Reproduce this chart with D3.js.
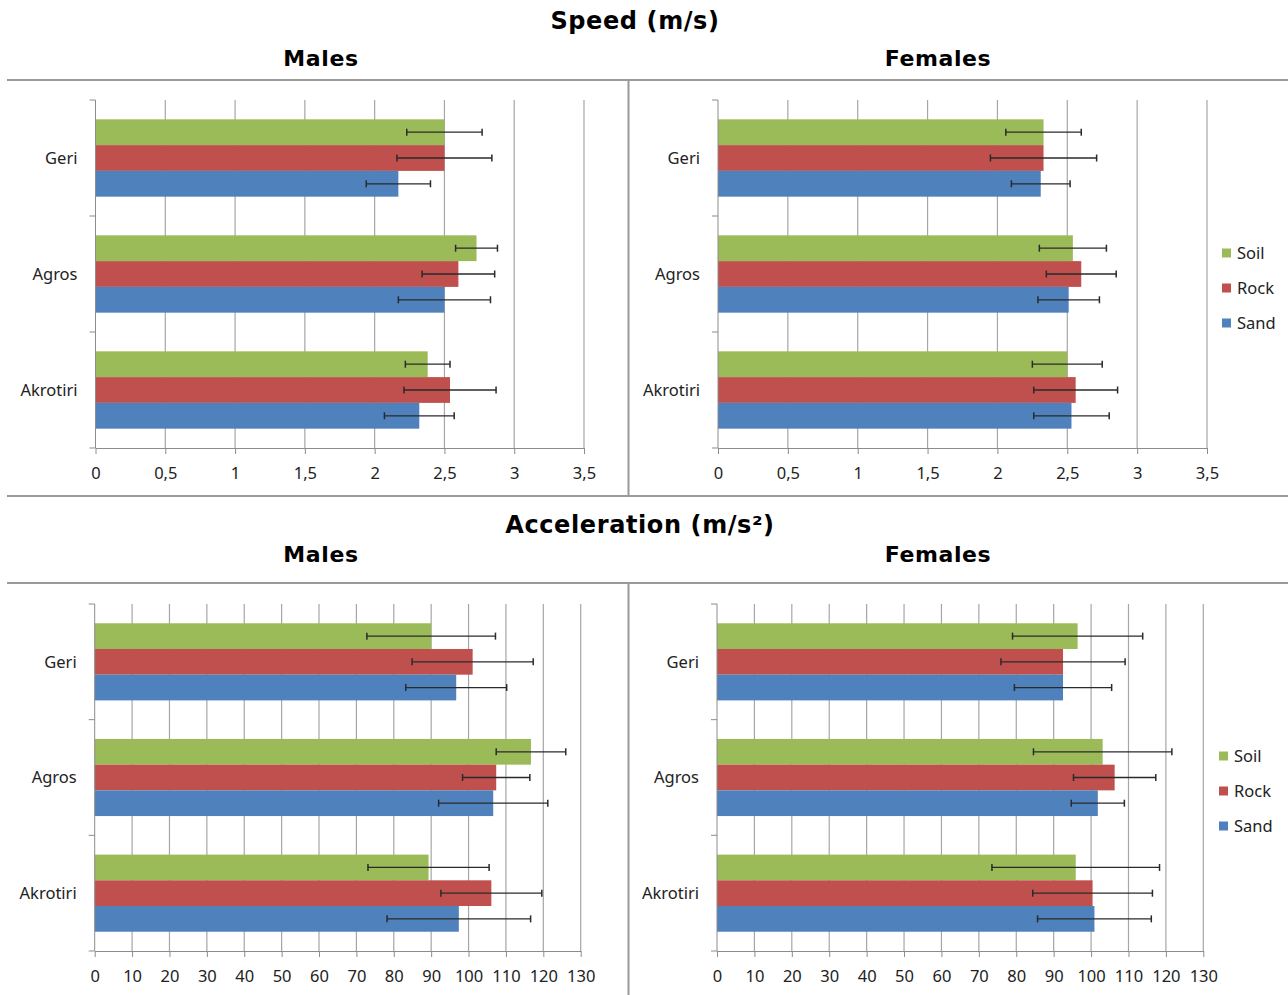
<!DOCTYPE html>
<html>
<head>
<meta charset="utf-8">
<script src="https://cdn.jsdelivr.net/npm/d3@7"></script>
<style>
  body { margin: 0; background: #fff; }
  svg { display: block; }
</style>
</head>
<body>
<svg id="chart" width="1288" height="995"></svg>
<script>
// categories (top to bottom) and series (top to bottom inside a group)
const sites = ["Geri", "Agros", "Akrotiri"];
const substrates = ["Soil", "Rock", "Sand"];
const colors = ["#9BBB59", "#C0504D", "#4F81BD"];

// rows = sites, columns = Soil, Rock, Sand
const speedMales = [[2.50, 2.50, 2.17], [2.73, 2.60, 2.50], [2.38, 2.54, 2.32]];
const speedMalesErr = [[0.27, 0.34, 0.23], [0.15, 0.26, 0.33], [0.16, 0.33, 0.25]];
const speedFemales = [[2.33, 2.33, 2.31], [2.54, 2.60, 2.51], [2.50, 2.56, 2.53]];
const speedFemalesErr = [[0.27, 0.38, 0.21], [0.24, 0.25, 0.22], [0.25, 0.30, 0.27]];

const accelMales = [[90.0, 101.1, 96.7], [116.7, 107.4, 106.6], [89.3, 106.1, 97.4]];
const accelMalesErr = [[17.2, 16.2, 13.5], [9.3, 9.0, 14.6], [16.2, 13.5, 19.2]];
const accelFemales = [[96.4, 92.5, 92.5], [103.1, 106.3, 101.8], [95.9, 100.4, 100.9]];
const accelFemalesErr = [[17.4, 16.6, 13.0], [18.5, 11.0, 7.1], [22.4, 16.0, 15.2]];

const speedTicks = [0, 0.5, 1, 1.5, 2, 2.5, 3, 3.5];
const accelTicks = [0, 10, 20, 30, 40, 50, 60, 70, 80, 90, 100, 110, 120, 130];

const svg = d3.select('#chart');
const fmt = d3.formatLocale({decimal: ",", thousands: ".", grouping: [3], currency: ["", ""]}).format("~g");
const labelFont = "'Noto Sans', 'Open Sans', sans-serif";
const titleFont = "'DejaVu Sans', Verdana, sans-serif";

// section titles and dividers
const titles = [
  {text: "Speed (m/s)", x: 635, y: 29, size: 24},
  {text: "Males", x: 321, y: 66, size: 22},
  {text: "Females", x: 938, y: 66, size: 22},
  {text: "Acceleration (m/s²)", x: 640, y: 533, size: 24},
  {text: "Males", x: 321, y: 562, size: 22},
  {text: "Females", x: 938, y: 562, size: 22}
];
svg.selectAll('text.title')
  .data(titles)
  .enter().append('text')
  .attr('class', 'title')
  .attr('x', d => d.x)
  .attr('y', d => d.y)
  .attr('text-anchor', 'middle')
  .style('font-family', titleFont)
  .style('font-weight', 'bold')
  .style('font-size', d => d.size + 'px')
  .style('letter-spacing', '0.6px')
  .text(d => d.text);

const rules = [
  [7, 80, 1288, 80], [7, 496, 1288, 496], [7, 583, 1288, 583],
  [628.5, 80, 628.5, 496], [628.5, 583, 628.5, 995]
];
svg.selectAll('line.rule')
  .data(rules)
  .enter().append('line')
  .attr('x1', d => d[0]).attr('y1', d => d[1])
  .attr('x2', d => d[2]).attr('y2', d => d[3])
  .attr('stroke', '#9a9a9a')
  .attr('stroke-width', 2);

const panels = [
  {mean: speedMales, err: speedMalesErr, ticks: speedTicks, left: 95.5, right: 584, top: 100, bottom: 448},
  {mean: speedFemales, err: speedFemalesErr, ticks: speedTicks, left: 718, right: 1207, top: 100, bottom: 448, legend: [1222, 253]},
  {mean: accelMales, err: accelMalesErr, ticks: accelTicks, left: 94.7, right: 580.7, top: 604, bottom: 951},
  {mean: accelFemales, err: accelFemalesErr, ticks: accelTicks, left: 717, right: 1203.3, top: 604, bottom: 951, legend: [1219, 756]}
];

panels.forEach(p => {
  const g = svg.append('g');
  const ticks = p.ticks;
  const x = d3.scaleLinear().domain([0, ticks[ticks.length - 1]]).range([p.left, p.right]);
  const y = d3.scaleBand().domain(sites).range([p.top, p.bottom]);
  const bw = y.bandwidth();
  const y1 = d3.scaleBand().domain(substrates).range([bw / 6, bw * 5 / 6]);

  // gridlines
  g.selectAll('line.grid')
    .data(ticks.slice(1))
    .enter().append('line')
    .attr('x1', d => x(d)).attr('x2', d => x(d))
    .attr('y1', p.top).attr('y2', p.bottom)
    .attr('stroke', '#a6a6a6')
    .attr('stroke-width', 1.2);

  // bars
  const rows = [];
  sites.forEach((s, i) => substrates.forEach((t, j) => {
    rows.push({site: s, sub: t, j: j, v: p.mean[i][j], e: p.err[i][j]});
  }));

  g.selectAll('rect.bar')
    .data(rows)
    .enter().append('rect')
    .attr('x', x(0))
    .attr('y', d => y(d.site) + y1(d.sub))
    .attr('width', d => x(d.v) - x(0))
    .attr('height', y1.bandwidth())
    .attr('fill', d => colors[d.j]);

  // error bars
  const eb = g.selectAll('g.err')
    .data(rows)
    .enter().append('g')
    .attr('transform', d => `translate(0,${y(d.site) + y1(d.sub) + y1.bandwidth() / 2})`);
  eb.append('line')
    .attr('x1', d => x(d.v - d.e)).attr('x2', d => x(d.v + d.e))
    .attr('stroke', '#2a2a2a').attr('stroke-width', 1.3);
  eb.selectAll('line.cap')
    .data(d => [d.v - d.e, d.v + d.e])
    .enter().append('line')
    .attr('x1', d => x(d)).attr('x2', d => x(d))
    .attr('y1', -3.5).attr('y2', 3.5)
    .attr('stroke', '#2a2a2a').attr('stroke-width', 1.5);

  // value axis
  const xAxis = g.append('g')
    .attr('transform', `translate(0,${p.bottom})`)
    .call(d3.axisBottom(x).tickValues(ticks).tickFormat(fmt).tickSize(6).tickSizeOuter(0).tickPadding(13));
  xAxis.select('.domain').attr('stroke', '#8c8c8c');
  xAxis.selectAll('.tick line').attr('stroke', '#8c8c8c');
  xAxis.selectAll('.tick text')
    .attr('fill', '#222')
    .style('font-family', labelFont)
    .style('font-size', '16.5px');

  // category axis
  g.append('line')
    .attr('x1', x(0)).attr('x2', x(0))
    .attr('y1', p.top).attr('y2', p.bottom)
    .attr('stroke', '#8c8c8c');
  g.selectAll('line.ctick')
    .data(d3.range(sites.length + 1))
    .enter().append('line')
    .attr('x1', x(0) - 6).attr('x2', x(0))
    .attr('y1', d => p.top + d * bw).attr('y2', d => p.top + d * bw)
    .attr('stroke', '#8c8c8c');
  g.selectAll('text.cat')
    .data(sites)
    .enter().append('text')
    .attr('x', x(0) - 18)
    .attr('y', d => y(d) + bw / 2)
    .attr('dy', '0.35em')
    .attr('text-anchor', 'end')
    .attr('fill', '#222')
    .style('font-family', labelFont)
    .style('font-size', '16.5px')
    .text(d => d);

  // legend
  if (p.legend) {
    const lg = g.selectAll('g.leg')
      .data(substrates)
      .enter().append('g')
      .attr('transform', (d, i) => `translate(${p.legend[0]},${p.legend[1] + i * 35})`);
    lg.append('rect')
      .attr('x', 0).attr('y', -4.5)
      .attr('width', 9).attr('height', 9)
      .attr('fill', (d, i) => colors[i]);
    lg.append('text')
      .attr('x', 15).attr('dy', '0.35em')
      .attr('fill', '#222')
      .style('font-family', labelFont)
      .style('font-size', '16.5px')
      .text(d => d);
  }
});
</script>
</body>
</html>
